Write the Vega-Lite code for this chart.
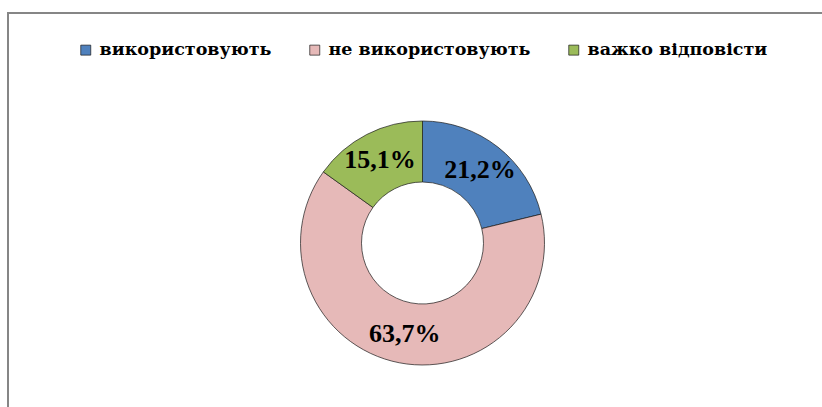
{
  "$schema": "https://vega.github.io/schema/vega-lite/v6.json",
  "autosize": "none",
  "padding": {"left": 8, "top": 13, "right": 0, "bottom": 0},
  "width": 829,
  "height": 460,
  "background": "white",
  "view": {"stroke": "#868686", "strokeWidth": 2},
  "data": {
    "values": [
      {"category": "використовують", "value": 21.2, "idx": 1, "label": "21,2%"},
      {"category": "не використовують", "value": 63.7, "idx": 2, "label": "63,7%"},
      {"category": "важко відповісти", "value": 15.1, "idx": 3, "label": "15,1%"}
    ]
  },
  "encoding": {
    "theta": {"field": "value", "type": "quantitative", "stack": true},
    "order": {"field": "idx", "type": "quantitative"}
  },
  "layer": [
    {
      "mark": {"type": "arc", "outerRadius": 122, "innerRadius": 61, "stroke": "#1a1a1a", "strokeWidth": 0.7},
      "encoding": {
        "color": {
          "field": "category",
          "type": "nominal",
          "scale": {
            "domain": ["використовують", "не використовують", "важко відповісти"],
            "range": ["#4F81BD", "#E6B9B8", "#9BBB59"]
          },
          "legend": {
            "title": null,
            "orient": "none",
            "direction": "horizontal",
            "legendX": 69,
            "legendY": 28,
            "symbolType": "square",
            "symbolSize": 100,
            "symbolStrokeColor": "#1a1a1a",
            "symbolStrokeWidth": 0.7,
            "labelOffset": 5,
            "columnPadding": 34,
            "labelLimit": 400,
            "labelFont": "DejaVu Serif",
            "labelFontWeight": "bold",
            "labelFontSize": 17.5,
            "labelColor": "#000"
          }
        }
      }
    },
    {
      "mark": {"type": "text", "radius": 93, "font": "Liberation Serif", "fontWeight": "bold", "fontSize": 26, "color": "#000", "align": "center", "baseline": "middle"},
      "encoding": {
        "text": {"field": "label", "type": "nominal"}
      }
    }
  ],
  "config": {
    "view": {"stroke": "#868686", "strokeWidth": 2}
  }
}
